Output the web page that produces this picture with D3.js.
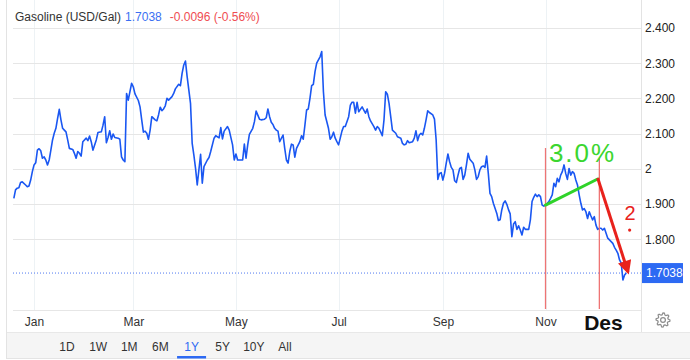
<!DOCTYPE html>
<html>
<head>
<meta charset="utf-8">
<script src="https://cdn.jsdelivr.net/npm/d3@7/dist/d3.min.js"></script>
<style>
  body { margin: 0; background: #fff; }
  svg { display: block; font-family: "Liberation Sans", Arial, sans-serif; }
</style>
</head>
<body>
<div id="chart"></div>
<script>
// ── data ────────────────────────────────────────────────────────
const title = 'Gasoline (USD/Gal)'
const lastValue = 1.7038
const changeText = '-0.0096 (-0.56%)'

const dates = [
  '2024-12-20','2024-12-21','2024-12-22','2024-12-23','2024-12-24','2024-12-25','2024-12-27','2024-12-28','2024-12-29','2024-12-30','2024-12-31',
  '2025-01-01','2025-01-02','2025-01-03','2025-01-04','2025-01-05','2025-01-06','2025-01-07','2025-01-08','2025-01-09','2025-01-10','2025-01-11','2025-01-12','2025-01-13','2025-01-14','2025-01-15','2025-01-16','2025-01-17','2025-01-18','2025-01-19','2025-01-20','2025-01-21','2025-01-22','2025-01-24','2025-01-25','2025-01-26','2025-01-27','2025-01-28','2025-01-29','2025-01-30',
  '2025-02-01','2025-02-02','2025-02-03','2025-02-04','2025-02-05','2025-02-07','2025-02-08','2025-02-10','2025-02-11','2025-02-12','2025-02-13','2025-02-14','2025-02-15','2025-02-16','2025-02-17','2025-02-18','2025-02-20','2025-02-21','2025-02-22','2025-02-23','2025-02-24','2025-02-25','2025-02-26','2025-02-28',
  '2025-03-01','2025-03-02','2025-03-04','2025-03-05','2025-03-06','2025-03-07','2025-03-08','2025-03-09','2025-03-10','2025-03-11','2025-03-12','2025-03-14','2025-03-15','2025-03-16','2025-03-17','2025-03-18','2025-03-19','2025-03-20','2025-03-21','2025-03-22','2025-03-24','2025-03-25','2025-03-26','2025-03-28','2025-03-29','2025-03-30','2025-03-31',
  '2025-04-01','2025-04-02','2025-04-04','2025-04-05','2025-04-06','2025-04-07','2025-04-08','2025-04-10','2025-04-11','2025-04-12','2025-04-14','2025-04-15','2025-04-16','2025-04-18','2025-04-19','2025-04-21','2025-04-22','2025-04-23','2025-04-24','2025-04-26','2025-04-27','2025-04-29','2025-04-30',
  '2025-05-01','2025-05-02','2025-05-04','2025-05-05','2025-05-06','2025-05-07','2025-05-08','2025-05-09','2025-05-11','2025-05-12','2025-05-13','2025-05-15','2025-05-16','2025-05-18','2025-05-19','2025-05-20','2025-05-21','2025-05-22','2025-05-23','2025-05-24','2025-05-25','2025-05-26','2025-05-27','2025-05-29','2025-05-30','2025-05-31',
  '2025-06-01','2025-06-02','2025-06-03','2025-06-04','2025-06-05','2025-06-06','2025-06-08','2025-06-09','2025-06-10','2025-06-11','2025-06-12','2025-06-13','2025-06-14','2025-06-15','2025-06-16','2025-06-17','2025-06-18','2025-06-20','2025-06-21','2025-06-22','2025-06-23','2025-06-25','2025-06-26','2025-06-27','2025-06-28','2025-06-29','2025-06-30',
  '2025-07-01','2025-07-02','2025-07-03','2025-07-04','2025-07-05','2025-07-07','2025-07-08','2025-07-09','2025-07-10','2025-07-11','2025-07-12','2025-07-13','2025-07-15','2025-07-16','2025-07-17','2025-07-18','2025-07-19','2025-07-20','2025-07-22','2025-07-23','2025-07-24','2025-07-25','2025-07-26','2025-07-27','2025-07-28','2025-07-29','2025-07-30','2025-07-31',
  '2025-08-01','2025-08-02','2025-08-04','2025-08-05','2025-08-06','2025-08-07','2025-08-08','2025-08-09','2025-08-10','2025-08-11','2025-08-12','2025-08-14','2025-08-15','2025-08-16','2025-08-17','2025-08-18','2025-08-19','2025-08-20','2025-08-21','2025-08-22','2025-08-23','2025-08-24','2025-08-26','2025-08-27','2025-08-28','2025-08-29','2025-08-30','2025-08-31',
  '2025-09-01','2025-09-02','2025-09-03','2025-09-04','2025-09-05','2025-09-06','2025-09-07','2025-09-08','2025-09-09','2025-09-10','2025-09-11','2025-09-12','2025-09-13','2025-09-14','2025-09-15','2025-09-16','2025-09-17','2025-09-19','2025-09-20','2025-09-21','2025-09-22','2025-09-23','2025-09-24','2025-09-25','2025-09-26','2025-09-27','2025-09-28','2025-09-29','2025-09-30',
  '2025-10-01','2025-10-03','2025-10-04','2025-10-05','2025-10-06','2025-10-07','2025-10-08','2025-10-09','2025-10-10','2025-10-11','2025-10-12','2025-10-13','2025-10-14','2025-10-15','2025-10-16','2025-10-17','2025-10-18','2025-10-19','2025-10-20','2025-10-21','2025-10-22','2025-10-23','2025-10-24','2025-10-25','2025-10-26','2025-10-27','2025-10-28','2025-10-29','2025-10-30','2025-10-31',
  '2025-11-02','2025-11-03','2025-11-04','2025-11-05','2025-11-06','2025-11-07','2025-11-08','2025-11-09','2025-11-10','2025-11-11','2025-11-12','2025-11-13','2025-11-14','2025-11-15','2025-11-16','2025-11-17','2025-11-18','2025-11-19','2025-11-20','2025-11-21','2025-11-22','2025-11-23','2025-11-24','2025-11-25','2025-11-26','2025-11-27','2025-11-28','2025-11-29','2025-11-30',
  '2025-12-01','2025-12-02','2025-12-03','2025-12-04','2025-12-05','2025-12-06','2025-12-07','2025-12-08','2025-12-10','2025-12-11','2025-12-12','2025-12-13','2025-12-14','2025-12-15','2025-12-16','2025-12-17','2025-12-18','2025-12-19'
]

const values = [
  1.916,1.940,1.945,1.946,1.961,1.963,1.954,1.949,1.951,1.968,1.992,
  2.011,2.017,2.053,2.057,2.051,2.030,2.034,2.025,2.011,2.025,2.053,2.082,2.101,2.115,2.143,2.169,2.139,2.115,2.110,2.105,2.082,2.058,2.055,2.044,2.030,2.049,2.044,2.036,2.077,
  2.087,2.080,2.093,2.077,2.053,2.082,2.103,2.105,2.124,2.148,2.074,2.089,2.108,2.084,2.099,2.089,2.087,2.084,2.034,2.025,2.020,2.214,2.195,2.243,
  2.233,2.213,2.194,2.176,2.139,2.104,2.107,2.101,2.084,2.110,2.148,2.139,2.136,2.153,2.175,2.165,2.170,2.179,2.200,2.195,2.205,2.214,2.227,2.240,2.236,2.271,2.295,
  2.306,2.262,2.186,2.072,2.039,2.001,1.954,2.041,1.959,2.006,2.025,2.032,2.049,2.087,2.094,2.088,2.117,2.085,2.107,2.120,2.110,2.068,2.025,
  2.042,2.025,2.025,2.025,2.070,2.030,2.068,2.098,2.115,2.134,2.164,2.141,2.139,2.141,2.145,2.170,2.148,2.132,2.126,2.115,2.110,2.107,2.077,2.096,2.058,2.025,
  2.016,2.049,2.070,2.068,2.033,2.058,2.077,2.094,2.084,2.124,2.167,2.170,2.200,2.236,2.240,2.276,2.300,2.318,2.333,2.219,2.153,2.115,2.084,2.091,2.104,2.087,2.077,
  2.068,2.087,2.107,2.120,2.120,2.148,2.181,2.189,2.189,2.158,2.189,2.162,2.176,2.167,2.158,2.170,2.148,2.136,2.120,2.110,2.120,2.115,2.105,2.094,2.139,2.219,2.212,2.186,
  2.148,2.110,2.101,2.091,2.089,2.087,2.072,2.068,2.070,2.080,2.074,2.077,2.087,2.108,2.080,2.096,2.101,2.096,2.115,2.139,2.165,2.160,2.153,2.141,2.082,1.970,1.987,1.989,
  1.968,1.987,2.016,2.042,2.020,2.004,1.997,1.966,1.961,1.982,2.001,2.004,1.970,1.982,2.011,2.044,2.027,2.016,1.997,1.970,1.978,1.997,2.006,2.008,2.004,2.036,1.987,1.930,1.921,
  1.902,1.874,1.853,1.855,1.883,1.902,1.909,1.899,1.884,1.872,1.807,1.843,1.850,1.828,1.838,1.826,1.812,1.834,1.828,1.828,1.828,1.855,1.907,1.919,1.928,1.921,1.926,1.921,1.897,1.894,
  1.902,1.907,1.916,1.926,1.959,1.949,1.973,1.963,1.982,1.992,2.011,1.987,1.970,2.001,1.982,1.992,1.987,1.968,1.954,1.926,1.902,1.883,1.887,1.878,1.859,1.878,1.866,1.855,1.864,
  1.840,1.828,1.831,1.831,1.826,1.831,1.817,1.803,1.793,1.788,1.777,1.769,1.760,1.741,1.732,1.684,1.698,1.7038
]

const yTicks = [1.8, 1.9, 2.0, 2.1, 2.2, 2.3, 2.4]
const monthTicks = ['2025-01-01', '2025-03-01', '2025-05-01', '2025-07-01', '2025-09-01', '2025-11-01']
const ranges = ['1D', '1W', '1M', '6M', '1Y', '5Y', '10Y', 'All']
const activeRange = '1Y'

// hand-drawn annotations on the screenshot
const markerDates = ['2025-11-01', '2025-12-03']
const markerTops = [2.059, 2.031]
const greenLine = [['2025-11-01', 1.897], ['2025-12-02', 1.971]]
const redArrow = [['2025-12-02', 1.974], ['2025-12-20', 1.707]]

// ── layout ──────────────────────────────────────────────────────
const W = 690, H = 360
const PLOT = { left: 13, right: 641, top: 28, bottom: 309.6 }
const parse = d3.timeParse('%Y-%m-%d')

const svg = d3.select('#chart').append('svg').attr('width', W).attr('height', H)

const x = d3.scaleTime()
  .domain([new Date(2024, 11, 19, 12), new Date(2025, 11, 27, 18)])
  .range([PLOT.left, PLOT.right])
const y = d3.scaleLinear().domain([1.6, 2.4]).range([PLOT.bottom, PLOT.top])

const data = dates.map((d, i) => ({ date: parse(d), value: values[i] }))

// ── frame ───────────────────────────────────────────────────────
svg.append('rect').attr('x', 7).attr('y', 332).attr('width', W - 7).attr('height', 26).attr('fill', '#f5f5f5')
svg.append('line').attr('x1', 7).attr('x2', W).attr('y1', 332.5).attr('y2', 332.5).attr('stroke', '#e8e8e8')
svg.append('line').attr('x1', 7).attr('x2', W).attr('y1', 358.5).attr('y2', 358.5).attr('stroke', '#e4e4e4')
svg.append('line').attr('x1', 6.5).attr('x2', 6.5).attr('y1', 0).attr('y2', 359).attr('stroke', '#e3e3e3')
svg.append('line').attr('x1', 641.5).attr('x2', 641.5).attr('y1', 0).attr('y2', 332).attr('stroke', '#e3e3e3')

// vertical month grid
svg.append('g').selectAll('line').data(monthTicks).join('line')
  .attr('x1', d => Math.round(x(parse(d))) + 0.5).attr('x2', d => Math.round(x(parse(d))) + 0.5)
  .attr('y1', 0).attr('y2', 310)
  .attr('stroke', '#edf2f5')

// horizontal value grid
svg.append('g').selectAll('line').data(yTicks).join('line')
  .attr('x1', PLOT.left).attr('x2', PLOT.right)
  .attr('y1', d => Math.round(y(d)) + 0.5).attr('y2', d => Math.round(y(d)) + 0.5)
  .attr('stroke', '#e6e6e6')

svg.append('line').attr('x1', PLOT.left).attr('x2', PLOT.right)
  .attr('y1', 310.5).attr('y2', 310.5).attr('stroke', '#e6e6e6')

// ── header ──────────────────────────────────────────────────────
const head = svg.append('text').attr('x', 15).attr('y', 21).style('font-size', '12px')
head.append('tspan').attr('fill', '#333').text(title)
head.append('tspan').attr('fill', '#3a6ff2').attr('dx', 4).text(lastValue.toFixed(4))
head.append('tspan').attr('fill', '#ef4d52').attr('dx', 8).text(changeText)

// ── series ──────────────────────────────────────────────────────
svg.append('line')
  .attr('x1', PLOT.left).attr('x2', PLOT.right)
  .attr('y1', y(lastValue)).attr('y2', y(lastValue))
  .attr('stroke', '#4f78f0').attr('stroke-dasharray', '1,2').attr('stroke-width', 1)

svg.append('path').datum(data)
  .attr('fill', 'none').attr('stroke', '#1a57f2').attr('stroke-width', 1.6)
  .attr('stroke-linejoin', 'round')
  .attr('d', d3.line().x(d => x(d.date)).y(d => y(d.value)))

// ── axes ────────────────────────────────────────────────────────
const yFmt = d => d === 2 ? '2' : d3.format('.3f')(d)
const gy = svg.append('g').attr('transform', 'translate(641,0)')
  .call(d3.axisRight(y).tickValues(yTicks).tickSize(0).tickPadding(4).tickFormat(yFmt))
gy.select('.domain').remove()
gy.selectAll('text').style('font-size', '12px').style('font-family', '"Liberation Sans", Arial, sans-serif').attr('fill', '#222')

const gx = svg.append('g').attr('transform', 'translate(0,310)')
  .call(d3.axisBottom(x).tickValues(monthTicks.map(parse)).tickSize(0).tickPadding(7).tickFormat(d3.timeFormat('%b')))
gx.select('.domain').remove()
gx.selectAll('text').style('font-size', '12px').style('font-family', '"Liberation Sans", Arial, sans-serif').attr('fill', '#333')

// current value tag
svg.append('rect').attr('x', 642).attr('y', y(lastValue) - 10).attr('width', 41).attr('height', 20).attr('fill', '#2d6af3')
svg.append('text').attr('x', 646).attr('y', y(lastValue)).attr('dy', '0.35em')
  .style('font-size', '12px').attr('fill', '#fff').text(lastValue.toFixed(4))

// ── range buttons ───────────────────────────────────────────────
const rx = d3.scalePoint().domain(ranges).range([67, 285])
svg.append('g').selectAll('text').data(ranges).join('text')
  .attr('x', d => rx(d)).attr('y', 351).attr('text-anchor', 'middle')
  .style('font-size', '12px')
  .attr('fill', d => d === activeRange ? '#2d6af3' : '#333')
  .text(d => d)
svg.append('rect').attr('x', rx(activeRange) - 14.5).attr('y', 356).attr('width', 29).attr('height', 2.5).attr('fill', '#2d6af3')

// settings gear
const gear = svg.append('g').attr('transform', 'translate(663,320)')
const teeth = 8
const gearPts = d3.range(teeth * 4).map(i => {
  const a = (i / (teeth * 4)) * Math.PI * 2
  const r = (i % 4 < 2) ? 7 : 5.2
  return [Math.cos(a) * r, Math.sin(a) * r]
})
gear.append('path').attr('d', d3.line().curve(d3.curveLinearClosed)(gearPts))
  .attr('fill', 'none').attr('stroke', '#8c8c8c').attr('stroke-width', 1.2)
gear.append('circle').attr('r', 2.4).attr('fill', 'none').attr('stroke', '#8c8c8c').attr('stroke-width', 1.2)

// ── annotations ─────────────────────────────────────────────────
const ann = svg.append('g')
ann.selectAll('line.marker').data(markerDates).join('line').attr('class', 'marker')
  .attr('x1', d => x(parse(d))).attr('x2', d => x(parse(d)))
  .attr('y1', (d, i) => y(markerTops[i])).attr('y2', 309)
  .attr('stroke', '#ee7474').attr('stroke-width', 1.3)

ann.append('line')
  .attr('x1', x(parse(greenLine[0][0]))).attr('y1', y(greenLine[0][1]))
  .attr('x2', x(parse(greenLine[1][0]))).attr('y2', y(greenLine[1][1]))
  .attr('stroke', '#2fd32a').attr('stroke-width', 3).attr('stroke-linecap', 'round')

svg.append('defs').append('marker')
  .attr('id', 'head').attr('viewBox', '0 0 10 10').attr('refX', 8).attr('refY', 5)
  .attr('markerWidth', 5.2).attr('markerHeight', 4.6).attr('markerUnits', 'strokeWidth').attr('orient', 'auto')
  .append('path').attr('d', 'M0,0L10,5L0,10Z').attr('fill', '#e8221c')

ann.append('line')
  .attr('x1', x(parse(redArrow[0][0]))).attr('y1', y(redArrow[0][1]))
  .attr('x2', x(parse(redArrow[1][0]))).attr('y2', y(redArrow[1][1]))
  .attr('stroke', '#e8221c').attr('stroke-width', 3).attr('marker-end', 'url(#head)')

ann.append('text').attr('x', x(parse('2025-11-03'))).attr('y', y(2.02))
  .style('font-size', '26px').style('letter-spacing', '2px').attr('fill', '#3bd62f').text('3.0%')
ann.append('text').attr('x', x(parse('2025-12-18'))).attr('y', y(1.855))
  .style('font-size', '20px').attr('fill', '#e8221c').text('2')
ann.append('circle').attr('cx', x(parse('2025-12-21'))).attr('cy', y(1.826)).attr('r', 1.6).attr('fill', '#e8221c')
ann.append('text').attr('x', x(parse('2025-11-24'))).attr('y', 330)
  .style('font-size', '21px').style('font-weight', 'bold').attr('fill', '#111').text('Des')
</script>
</body>
</html>
